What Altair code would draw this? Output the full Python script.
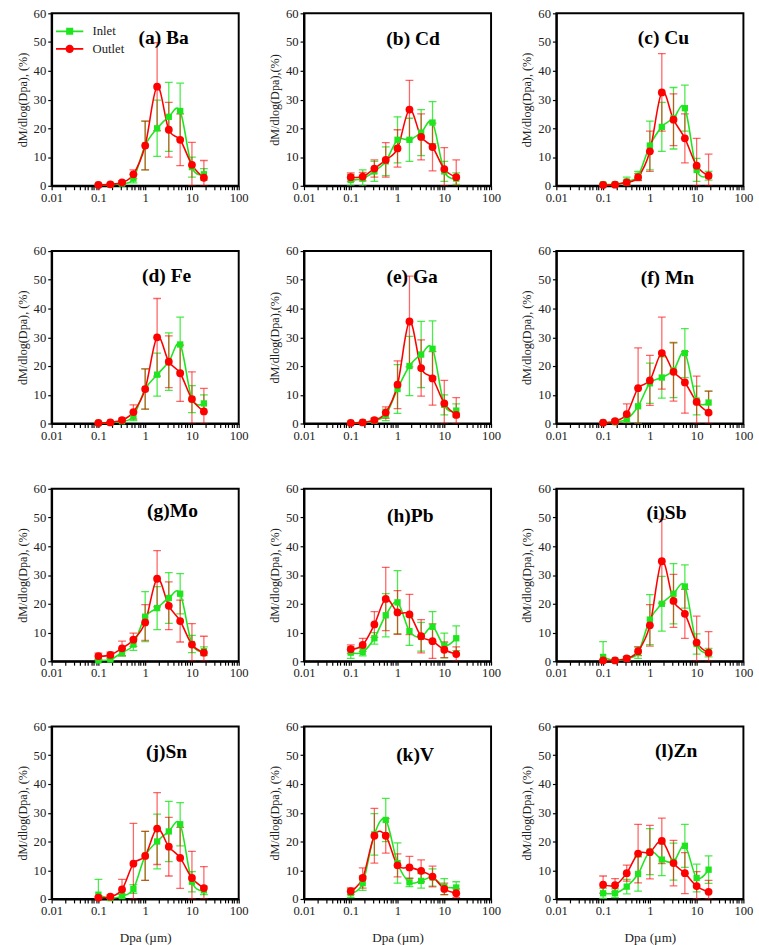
import altair as alt
import pandas as pd

# ---------------- data ----------------
DPA = [0.1, 0.18, 0.32, 0.56, 1.0, 1.8, 3.2, 5.6, 10, 18]

LABELS = ["(a) Ba", "(b) Cd", "(c) Cu", "(d) Fe", "(e) Ga", "(f) Mn",
          "(g)Mo", "(h)Pb", "(i)Sb", "(j)Sn", "(k)V", "(l)Zn"]
YTITLES = ["dM/dlog(Dpa), (%)", "dM/dlog(Dpa),(%)", "dM/dlog(Dpa), (%)",
           "dM/dlog(Dpa), (%)", "dM/dlog(Dpa),(%)", "dM/dlog(Dpa), (%)",
           "dM/dlog(Dpa), (%)", "dM/dlog(Dpa), (%)", "dM/dlog(Dpa), (%)",
           "dM/dlog(Dpa), (%)", "dM/dlog(Dpa), (%)", "dM/dlog(Dpa), (%)"]
SERIES = ["Inlet", "Outlet"]

BA_IN = [0.3, 0.4, 0.8, 2.5, 14, 20, 24, 26, 6.5, 4]
BA_IN_E = [0.3, 0.3, 0.6, 1.5, 8.5, 9.8, 12, 9.7, 3.5, 2]
BA_OUT = [0.3, 0.5, 1.2, 4, 14, 34.5, 19.5, 16, 7.3, 2.8]
BA_OUT_E = [0.3, 0.4, 0.6, 1.5, 8.5, 15.3, 9.5, 9, 7.8, 6]

CD_IN = [2, 2.5, 5, 8.5, 16, 16, 18.5, 22, 5, 2.5]
CD_IN_E = [2, 3, 3.5, 5, 8, 7.5, 8, 7.3, 3.5, 2]
CD_OUT = [3, 3.2, 6, 9, 13, 26.5, 17, 13.5, 5.8, 3]
CD_OUT_E = [1.5, 1.5, 3, 6, 6.5, 10.2, 8, 8.3, 7.5, 6]

CU_IN = [0.5, 0.5, 1.5, 3.5, 14, 20.5, 23.5, 27, 5.5, 3.5]
CU_IN_E = [0.4, 0.4, 1.5, 1.5, 8.5, 8.5, 10.7, 8, 4, 1.5]
CU_OUT = [0.3, 0.4, 1.2, 3, 12, 32.5, 23, 16.5, 7, 3.5]
CU_OUT_E = [0.3, 0.3, 0.8, 1.2, 7, 13.5, 9, 8.5, 9.5, 7.5]

FE_IN = [0.2, 0.3, 0.8, 2.5, 12, 17, 21.5, 27.5, 8.5, 7]
FE_IN_E = [0.2, 0.2, 0.5, 1.5, 7, 7.5, 10, 9.5, 4.7, 3]
FE_OUT = [0.2, 0.4, 1.2, 4, 12, 30, 21.5, 17.5, 8.5, 4.2]
FE_OUT_E = [0.2, 0.3, 0.7, 2.5, 7, 13.5, 9, 9.8, 9.5, 8]

GA_IN = [0.2, 0.4, 1, 3, 12, 20, 24, 26, 6.5, 4.5]
GA_IN_E = [0.2, 0.3, 0.6, 2, 8.5, 10.3, 11.5, 9.7, 3.5, 2.3]
GA_OUT = [0.2, 0.4, 1.2, 3.8, 13.5, 35.5, 19.3, 15.7, 7, 3]
GA_OUT_E = [0.2, 0.3, 0.7, 2, 8.3, 15.8, 9.8, 9.3, 8, 6]

MN_IN = [0.3, 0.5, 1.5, 6, 14, 16, 18.5, 24.5, 8, 7.3]
MN_IN_E = [0.3, 0.4, 1, 6.5, 7, 7.2, 9.5, 8.5, 5, 4]
MN_OUT = [0.3, 0.8, 3.3, 12.3, 15, 24.5, 18, 14.3, 7.5, 3.8]
MN_OUT_E = [0.3, 0.6, 3.5, 14, 8.7, 12.5, 10.2, 10.7, 9, 7.5]

MO_IN = [0.3, 0.6, 3, 5.8, 15.5, 18.5, 22, 23.5, 6, 3.5]
MO_IN_E = [0.3, 0.5, 1.2, 2, 8.7, 7.5, 8.8, 7, 3, 1.5]
MO_OUT = [1.8, 2.2, 4.5, 7.5, 13.5, 28.7, 19.3, 14, 5.8, 3]
MO_OUT_E = [1, 1, 2.5, 2.3, 6.2, 9.8, 8.3, 7.3, 7.3, 5.7]

PB_IN = [3, 3.2, 8, 16, 20.5, 10.5, 8.5, 12, 5.5, 8]
PB_IN_E = [2, 1.3, 2, 7.5, 11, 5, 5, 5.3, 4.3, 4.3]
PB_OUT = [4.2, 5.7, 12.8, 21.7, 17, 16.3, 8.7, 7, 4, 2.5]
PB_OUT_E = [1.5, 2.3, 4.5, 11, 7.6, 7, 5.8, 6, 2.7, 2.5]

SB_IN = [1.5, 0.3, 1, 3, 14.5, 20, 23.5, 26, 6, 3]
SB_IN_E = [5.3, 0.3, 0.6, 2, 8.7, 9.5, 10.5, 7.5, 3.5, 1.5]
SB_OUT = [0.3, 0.3, 1, 3.5, 12.5, 34.8, 21, 16.5, 6.5, 3]
SB_OUT_E = [0.3, 0.3, 0.6, 1.5, 7.2, 14.6, 9.2, 8.5, 9.2, 7.3]

SN_IN = [1.5, 0.3, 1, 3.5, 15, 20, 23.5, 26, 6, 3]
SN_IN_E = [5.3, 0.3, 0.6, 1.5, 8.5, 9.5, 10.5, 7.5, 3.5, 1.5]
SN_OUT = [0.5, 0.8, 3.3, 12.3, 15, 24.5, 18.2, 14.3, 7.3, 3.8]
SN_OUT_E = [0.4, 0.6, 3.5, 14, 8.5, 12.5, 10.2, 10.6, 9.3, 7.5]

V_IN = [2, 5.5, 22.5, 27.5, 12.5, 5.8, 6.3, 7.5, 4.3, 4]
V_IN_E = [1.5, 2.5, 7.2, 7.5, 7, 1.5, 2.5, 3, 2.8, 2]
V_OUT = [2.7, 7.3, 22, 22, 11.7, 11, 9.8, 7.8, 3.5, 2]
V_OUT_E = [1.2, 3.5, 9.5, 6, 4, 3.8, 3.8, 3.6, 2, 1.5]

ZN_IN = [2, 2, 4.3, 8.7, 16.5, 13.7, 13, 18.5, 7.3, 10.2]
ZN_IN_E = [1.8, 1.5, 2.5, 6, 8, 5.6, 6.4, 7.5, 4.8, 4.8]
ZN_OUT = [5, 4.8, 9, 15.8, 16.3, 20.2, 12.5, 9, 4.5, 2.5]
ZN_OUT_E = [3, 2.3, 2.8, 10.2, 9.3, 7.9, 7.9, 7.1, 5, 4]

PANEL_DATA = [
    (BA_IN, BA_IN_E, BA_OUT, BA_OUT_E), (CD_IN, CD_IN_E, CD_OUT, CD_OUT_E),
    (CU_IN, CU_IN_E, CU_OUT, CU_OUT_E), (FE_IN, FE_IN_E, FE_OUT, FE_OUT_E),
    (GA_IN, GA_IN_E, GA_OUT, GA_OUT_E), (MN_IN, MN_IN_E, MN_OUT, MN_OUT_E),
    (MO_IN, MO_IN_E, MO_OUT, MO_OUT_E), (PB_IN, PB_IN_E, PB_OUT, PB_OUT_E),
    (SB_IN, SB_IN_E, SB_OUT, SB_OUT_E), (SN_IN, SN_IN_E, SN_OUT, SN_OUT_E),
    (V_IN, V_IN_E, V_OUT, V_OUT_E), (ZN_IN, ZN_IN_E, ZN_OUT, ZN_OUT_E),
]

# ---------------- style ----------------
GREEN = "#1ee61e"
RED = "#ff0000"
FONT = "Liberation Serif"
W, H = 192, 177
LABEL_X = [115, 112, 110, 118, 111, 114, 124, 109, 113, 118, 114, 123]
LABEL_Y = [31, 33, 31, 32, 33, 34, 29, 34, 31, 32, 35, 31]

LOG_TICKS = [m * 10 ** e for e in range(-2, 2) for m in range(1, 10)] + [100]
LABEL_EXPR = ("abs(log(datum.value)/LN10 - round(log(datum.value)/LN10)) < 0.001"
              " ? format(datum.value, '~g') : ''")

SQ_PATH = "M-3.5,-0.2H3.5V0.2H-3.5Z M-0.9,-0.9H0.9V0.9H-0.9Z"
CI_PATH = "M-3.5,-0.2H3.5V0.2H-3.5Z M-1.05,0A1.05,1.05 0 1,1 1.05,0A1.05,1.05 0 1,1 -1.05,0Z"


def xch(bottom):
    return alt.X(
        "dpa:Q",
        scale=alt.Scale(type="log", domain=[0.01, 100]),
        axis=alt.Axis(values=LOG_TICKS, labelExpr=LABEL_EXPR, labelOverlap=False,
                      title="Dpa (µm)" if bottom else None, grid=False,
                      labelFlush=False),
    )


def ych(field, title):
    return alt.Y(
        f"{field}:Q",
        scale=alt.Scale(domain=[0, 60], nice=False),
        axis=alt.Axis(values=[0, 10, 20, 30, 40, 50, 60], title=title, grid=False),
    )


def panel(i, bottom):
    inl, inl_e, out, out_e = PANEL_DATA[i]
    rows = []
    for s, vals, errs in (("Inlet", inl, inl_e), ("Outlet", out, out_e)):
        for d, v, e in zip(DPA, vals, errs):
            rows.append(dict(dpa=d, value=v, lo=max(v - e, 0), hi=v + e, series=s))
    df = pd.DataFrame(rows)
    base = alt.Chart(df)
    yt = YTITLES[i]
    layers = []
    for s, c, op in (("Inlet", GREEN, 0.8), ("Outlet", RED, 0.6)):
        b = base.transform_filter(alt.datum.series == s)
        layers.append(b.mark_rule(color=c, opacity=op, strokeWidth=1.3, clip=True).encode(
            x=xch(bottom), y=ych("lo", yt), y2="hi"))
        layers.append(b.mark_tick(color=c, opacity=op, orient="horizontal", size=8,
                                  thickness=1.3, clip=True).encode(x=xch(bottom), y=ych("lo", yt)))
        layers.append(b.mark_tick(color=c, opacity=op, orient="horizontal", size=8,
                                  thickness=1.3, clip=True).encode(x=xch(bottom), y=ych("hi", yt)))
    for s, c in (("Inlet", GREEN), ("Outlet", RED)):
        b = base.transform_filter(alt.datum.series == s)
        layers.append(b.mark_line(color=c, strokeWidth=1.6, interpolate="cardinal",
                                  tension=0).encode(x=xch(bottom), y=ych("value", yt)))
    layers.append(base.transform_filter(alt.datum.series == "Inlet").mark_square(
        color=GREEN, size=42, opacity=1).encode(x=xch(bottom), y=ych("value", yt)))
    layers.append(base.transform_filter(alt.datum.series == "Outlet").mark_circle(
        color=RED, size=64, opacity=1).encode(x=xch(bottom), y=ych("value", yt)))
    # panel label
    ldf_txt = pd.DataFrame({"label": [LABELS[i]]})
    layers.append(alt.Chart(ldf_txt).mark_text(
        font=FONT, fontSize=20, fontWeight="bold", color="black", align="center",
        baseline="alphabetic").encode(
        text="label:N", x=alt.value(LABEL_X[i]), y=alt.value(LABEL_Y[i])))
    if i == 0:
        leg = alt.Legend(title=None, orient="top-left", offset=12,
                         labelFont=FONT, labelFontSize=13, labelColor="#222",
                         symbolSize=64, labelOffset=17, rowPadding=3, symbolOpacity=1)
        ldf = pd.DataFrame({"series": SERIES})
        layers.append(alt.Chart(ldf).transform_filter("false").mark_point(filled=True).encode(
            color=alt.Color("series:N", scale=alt.Scale(domain=SERIES, range=[GREEN, RED]),
                            legend=leg),
            shape=alt.Shape("series:N", scale=alt.Scale(domain=SERIES, range=[SQ_PATH, CI_PATH]),
                            legend=leg),
        ))
    return alt.layer(*layers).properties(width=W, height=H)


rows = []
for r in range(4):
    row = alt.hconcat(*[panel(r * 3 + c, r == 3) for c in range(3)], spacing=19)
    row = row.resolve_scale(color="independent", shape="independent")
    rows.append(row)

chart = alt.vconcat(*rows, spacing=40).resolve_scale(
    color="independent", shape="independent"
).configure(
    padding={"left": 16, "top": -6, "right": 5, "bottom": 5},
).configure_view(
    stroke="black", strokeWidth=2
).configure_axis(
    labelFont=FONT, labelFontSize=13, labelColor="#222",
    titleFont=FONT, titleFontSize=12.5, titleColor="#222", titleFontWeight="normal",
    domainColor="black", domainWidth=2, tickColor="black", tickSize=4, tickWidth=1.2,
    labelPadding=2,
).configure_axisX(
    titleFontSize=13.5, titlePadding=14,
).configure_axisY(
    titlePadding=4,
)

chart.save("out.html", embed_options={"renderer": "svg", "actions": False})
